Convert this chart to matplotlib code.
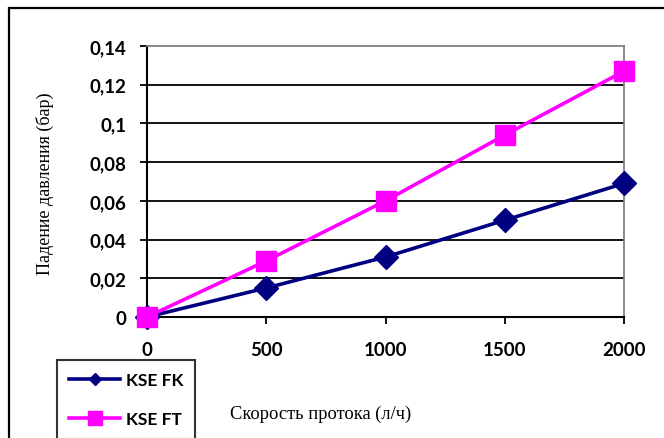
import matplotlib
matplotlib.use("Agg")
import matplotlib.pyplot as plt
from matplotlib.patches import Rectangle
from matplotlib.lines import Line2D

flow = [0, 500, 1000, 1500, 2000]
kse_fk = [0.0, 0.015, 0.031, 0.050, 0.069]
kse_ft = [0.0, 0.029, 0.060, 0.094, 0.127]
yticks = [0, 0.02, 0.04, 0.06, 0.08, 0.1, 0.12, 0.14]
ytick_labels = ["0", "0,02", "0,04", "0,06", "0,08", "0,1", "0,12", "0,14"]
series_names = ["KSE FK", "KSE FT"]

W, H = 664, 439
fig = plt.figure(figsize=(W / 100, H / 100), dpi=100)
fig.patch.set_facecolor("white")

# outer frame
fig.patches.append(Rectangle((9 / W, -0.1), 1.2, 1 - 9 / H + 0.1, transform=fig.transFigure,
                             fill=False, edgecolor="black", linewidth=1.6, clip_on=False))

ax = fig.add_axes([147 / W, 1 - 318 / H, (624 - 147) / W, (318 - 47) / H])
ax.set_xlim(0, 2000)
ax.set_ylim(0, 0.14)

for y in yticks[1:-1]:
    ax.axhline(y, color="black", linewidth=1.3, zorder=1)

navy, magenta = "#000080", "#FF00FF"
ax.plot(flow, kse_fk, color=navy, linewidth=2.6, marker="D", markersize=12,
        clip_on=False, zorder=3)
ax.plot(flow, kse_ft, color=magenta, linewidth=2.6, marker="s", markersize=14.5,
        clip_on=False, zorder=4)

ax.spines["top"].set_color("#808080")
ax.spines["right"].set_color("#808080")
ax.spines["top"].set_linewidth(1.3)
ax.spines["right"].set_linewidth(1.3)
ax.spines["left"].set_linewidth(1.5)
ax.spines["bottom"].set_linewidth(1.5)

ax.set_xticks(flow)
ax.set_xticklabels([str(v) for v in flow])
ax.set_yticks(yticks)
ax.set_yticklabels(ytick_labels)
ax.tick_params(axis="both", direction="out", length=5, width=1.3, colors="black")
ax.tick_params(axis="x", pad=12)
ax.tick_params(axis="y", pad=10)
for lab in ax.get_xticklabels() + ax.get_yticklabels():
    lab.set_fontfamily("Lato")
    lab.set_fontweight("bold")
    lab.set_fontsize(13.5)

fig.text(321 / W, 1 - 414 / H, "Скорость протока (л/ч)", ha="center", va="center",
         fontfamily="Liberation Serif", fontsize=13.3)
fig.text(45 / W, 1 - 184 / H, "Падение давления (бар)", ha="center", va="center",
         rotation=90, fontfamily="Liberation Serif", fontsize=13)

h_fk = Line2D([], [], color=navy, linewidth=2.6, marker="D", markersize=6)
h_ft = Line2D([], [], color=magenta, linewidth=2.6, marker="s", markersize=10.5)
leg = fig.legend(handles=[h_fk, h_ft], labels=series_names, loc="upper left",
                 bbox_to_anchor=(57 / W, 1 - 361 / H), bbox_transform=fig.transFigure,
                 frameon=True, fancybox=False, edgecolor="black", handlelength=2.95,
                 labelspacing=1.3, borderpad=0.7, borderaxespad=0, handletextpad=0.3,
                 prop={"family": "Lato", "weight": "bold", "size": 12.5})
leg.get_frame().set_linewidth(1.5)

fig.savefig("out.png", dpi=100)
